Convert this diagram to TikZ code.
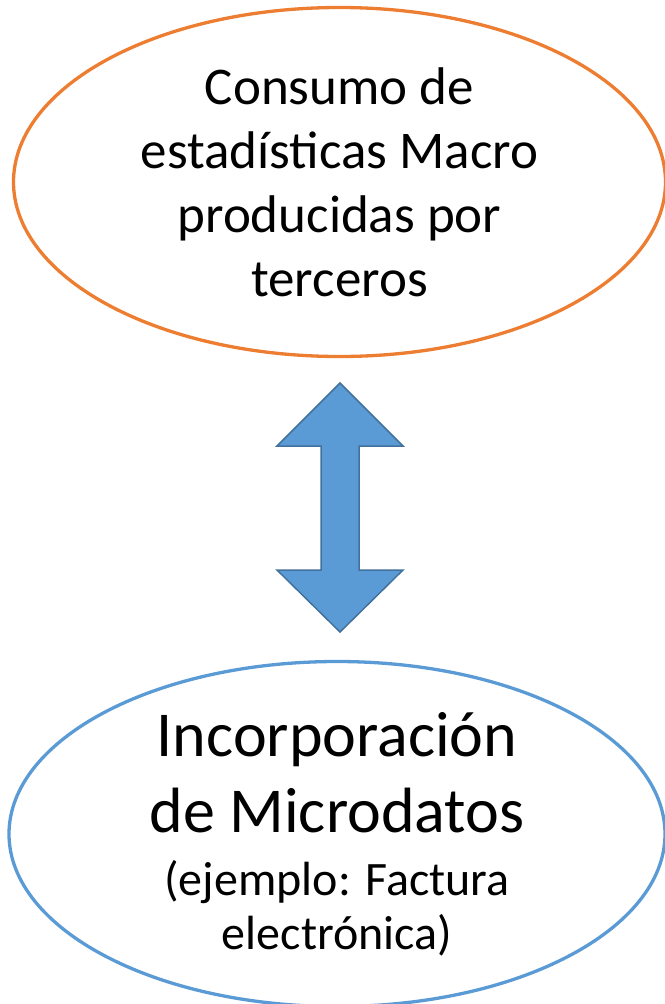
\documentclass[tikz,border=0pt]{standalone}
\usepackage{fontspec}
\setmainfont{Carlito}
\usepackage{tikz}
\usetikzlibrary{shapes.geometric}
\definecolor{macroline}{HTML}{ED7D31}
\definecolor{microline}{HTML}{5B9BD5}
\definecolor{arrowfill}{HTML}{5B9BD5}
\definecolor{arrowline}{HTML}{41719C}
\tikzstyle{bubble}=[draw, ellipse, line width=3.3pt, inner sep=0, outer sep=0, align=center, text=black]
\tikzstyle{macrobubble}=[bubble, draw=macroline, minimum width=652pt, minimum height=349pt,
                         font=\fontsize{53}{64}\selectfont]
\tikzstyle{microbubble}=[bubble, draw=microline, minimum width=656pt, minimum height=345pt,
                         font=\fontsize{64}{76}\selectfont]
\tikzstyle{blockarrow}=[fill=arrowfill, draw=arrowline, line width=1.5pt, line join=miter]
\begin{document}
\begin{tikzpicture}[x=1pt, y=-1pt]
        % Fix the page to the size of the picture.
        \useasboundingbox (0, 0) rectangle (664, 1004);
        \node[macrobubble] (Macro) at (339.5, 182) {Consumo de\\estadísticas Macro\\producidas por\\terceros};
        \node[microbubble] (Micro) at (337, 834) {Incorporación\\de Microdatos\\[-13pt]%
                {\fontsize{48}{57}\selectfont (ejemplo: Factura}\\[-22pt]%
                {\fontsize{48}{57}\selectfont electrónica)}};
        \coordinate (link) at (340, 507.5);
        \draw[blockarrow] (link) ++(0, -124.5) -- ++(63, 63) -- ++(-44, 0) -- ++(0, 124) -- ++(44, 0)
                -- ++(-63, 62) -- ++(-63, -62) -- ++(44, 0) -- ++(0, -124) -- ++(-44, 0) -- cycle;
    \end{tikzpicture}
\end{document}
